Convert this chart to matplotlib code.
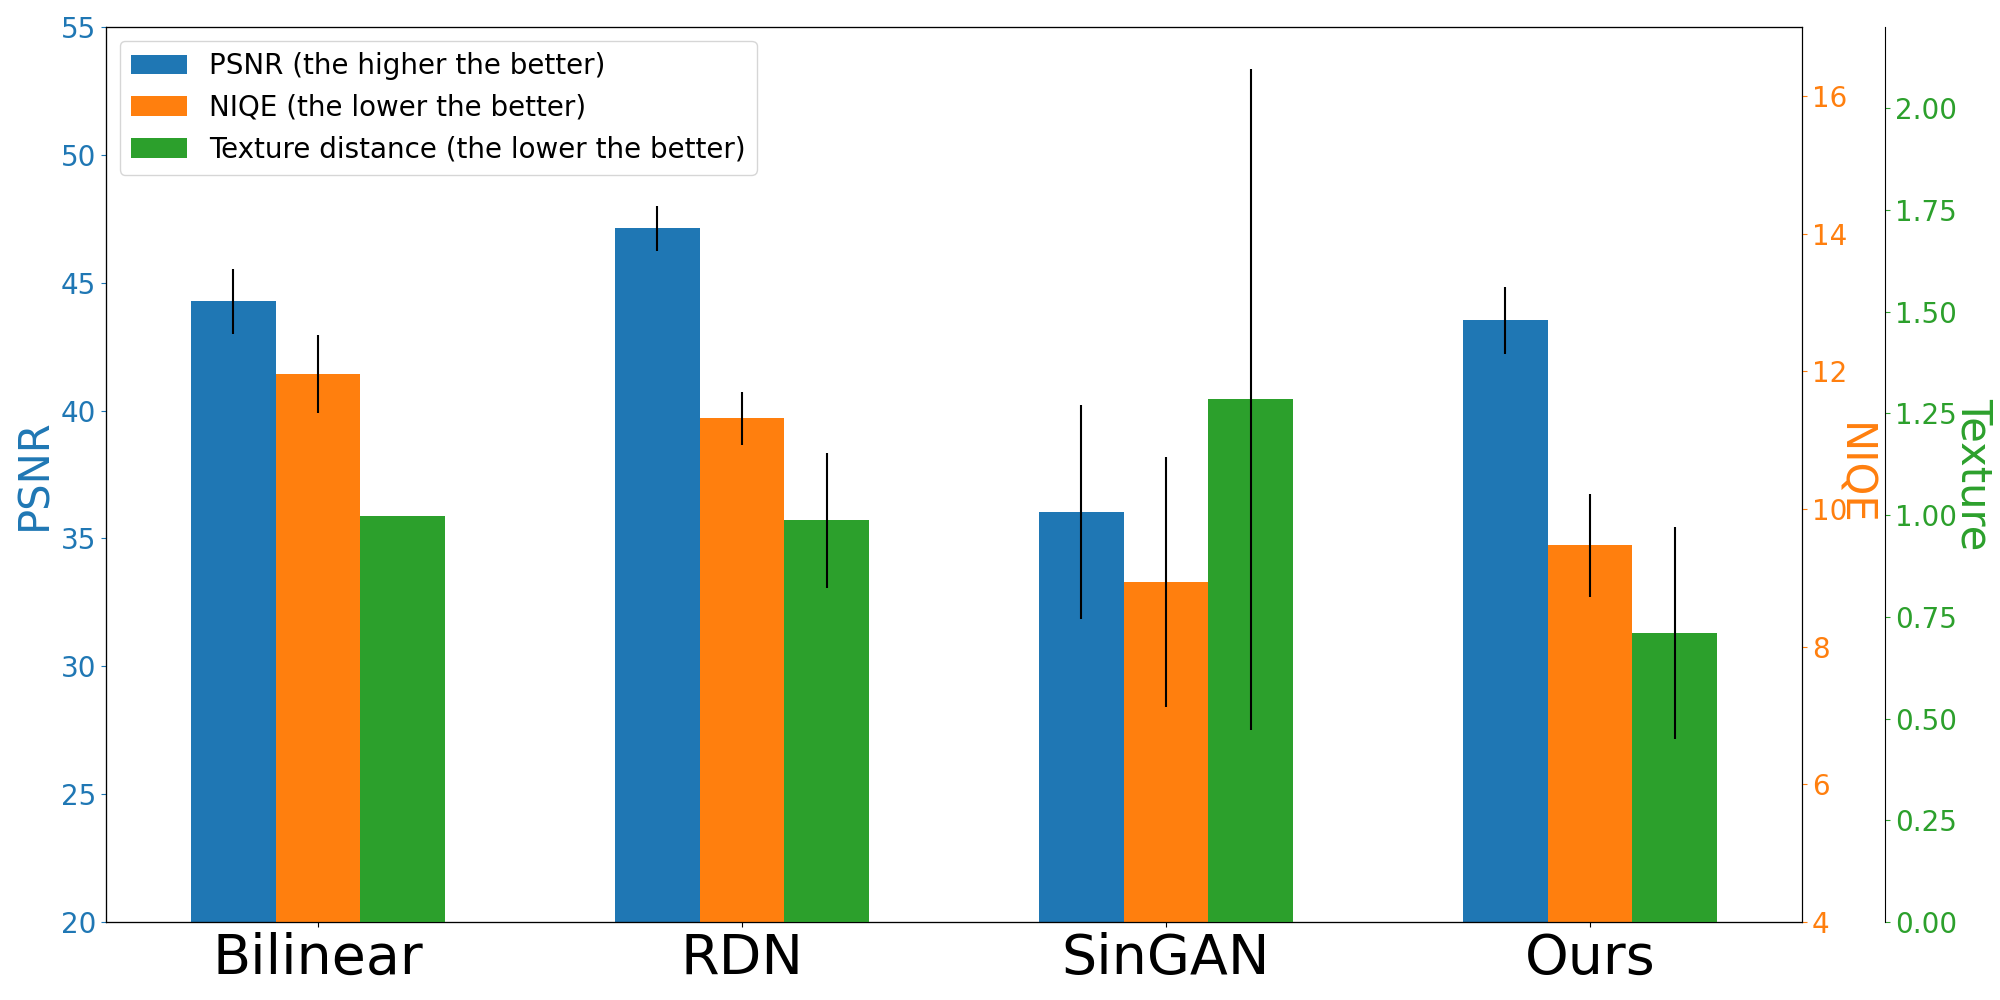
import numpy as np
import matplotlib
matplotlib.use('Agg')
import matplotlib.pyplot as plt

methods = ['Bilinear', 'RDN', 'SinGAN', 'Ours']

psnr = [44.28, 47.13, 36.03, 43.54]
psnr_err = [1.27, 0.88, 4.19, 1.31]

niqe = [11.96, 11.32, 8.94, 9.47]
niqe_err = [0.56, 0.385, 1.81, 0.75]

texture = [0.998, 0.988, 1.285, 0.71]
texture_err = [0.0, 0.166, 0.812, 0.26]

x = np.arange(len(methods))
w = 0.2

fig, ax1 = plt.subplots(figsize=(20, 10), dpi=100)
fig.subplots_adjust(left=0.053, right=0.901, top=0.973, bottom=0.078)

ax2 = ax1.twinx()
ax3 = ax1.twinx()
ax3.spines['right'].set_position(('outward', 60))

b1 = ax1.bar(x - w, psnr, w, yerr=psnr_err, color='tab:blue',
             label='PSNR (the higher the better)')
b2 = ax2.bar(x, niqe, w, yerr=niqe_err, color='tab:orange',
             label='NIQE (the lower the better)')
b3 = ax3.bar(x + w, texture, w, yerr=texture_err, color='tab:green',
             label='Texture distance (the lower the better)')

ax1.set_xlim(-0.5, 3.5)
ax1.set_ylim(20, 55)
ax2.set_ylim(4, 17)
ax3.set_ylim(0, 2.2)

ax1.set_xticks(x)
ax1.set_xticklabels(methods, fontsize=40)

ax1.set_ylabel('PSNR', fontsize=30, color='tab:blue')
ax2.set_ylabel('NIQE', fontsize=30, color='tab:orange', rotation=270, labelpad=20)
ax3.set_ylabel('Texture', fontsize=30, color='tab:green', rotation=270, labelpad=27)

ax1.tick_params(axis='y', labelsize=20, colors='tab:blue')
ax2.tick_params(axis='y', labelsize=20, colors='tab:orange')
ax3.tick_params(axis='y', labelsize=20, colors='tab:green')
ax1.tick_params(axis='x', labelsize=40)

ax2.set_yticks([4, 6, 8, 10, 12, 14, 16])
ax3.set_yticks(np.arange(0, 2.01, 0.25))
ax3.yaxis.set_major_formatter(matplotlib.ticker.FormatStrFormatter('%.2f'))

ax3.legend(handles=[b1, b2, b3], loc='upper left', fontsize=20)

fig.savefig('out.png')
